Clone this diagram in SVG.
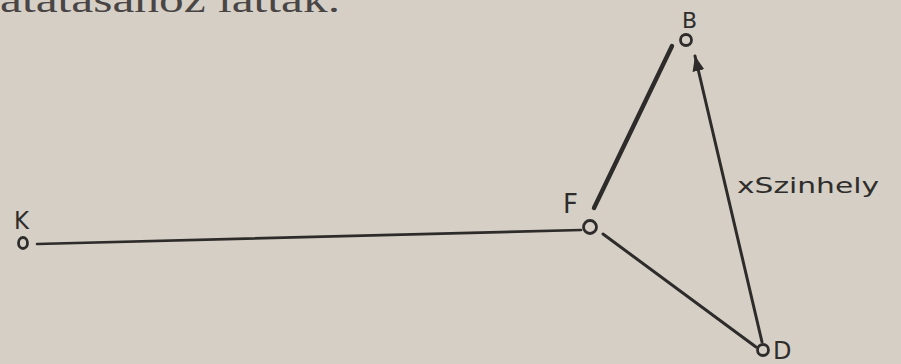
<svg xmlns="http://www.w3.org/2000/svg" width="901" height="364" viewBox="0 0 901 364">
<defs>
<style>
.bg{fill:#d5cfc5}
.ln{stroke:#2e2c2b;fill:none;stroke-linecap:round}
.nd{fill:none;stroke:#2e2c2b;stroke-width:2.8}
.lb{font-family:"DejaVu Sans","Liberation Sans",sans-serif;fill:#2f2d2c}
.hd{font-family:"Liberation Serif",serif;fill:#4a4545}
</style>
<marker id="ah" markerWidth="6" markerHeight="6" refX="5" refY="3" orient="auto" markerUnits="strokeWidth">
<path d="M0,1 L5,3 L0,5 Z" fill="#2e2c2b"/>
</marker>
</defs>
<rect class="bg" x="0" y="0" width="901" height="364"/>
<text class="hd" x="0" y="12" font-size="36" textLength="340" lengthAdjust="spacingAndGlyphs">atatásához  láttak.</text>
<g id="connectors">
<line class="ln" x1="37" y1="244" x2="581" y2="230" stroke-width="2.6"/>
<line class="ln" x1="594" y1="208" x2="672" y2="46" stroke-width="4.4"/>
<line class="ln" x1="762" y1="342" x2="695" y2="56" stroke-width="3" marker-end="url(#ah)"/>
<line class="ln" x1="603" y1="234" x2="756" y2="347" stroke-width="3"/>
<text class="lb" x="737" y="193" font-size="22" textLength="142" lengthAdjust="spacingAndGlyphs">xSzinhely</text>
</g>
<g id="node-K">
<ellipse class="nd" cx="23" cy="243" rx="4.5" ry="5.5"/>
<text class="lb" x="14" y="229" font-size="24" textLength="15" lengthAdjust="spacingAndGlyphs">K</text>
</g>
<g id="node-F">
<circle class="nd" cx="590" cy="227" r="6.5"/>
<text class="lb" x="563" y="213" font-size="26">F</text>
</g>
<g id="node-B">
<circle class="nd" cx="686" cy="40" r="5.5"/>
<text class="lb" x="682" y="28" font-size="22">B</text>
</g>
<g id="node-D">
<circle class="nd" cx="763" cy="350" r="5.5"/>
<text class="lb" x="773" y="359" font-size="24">D</text>
</g>
</svg>
